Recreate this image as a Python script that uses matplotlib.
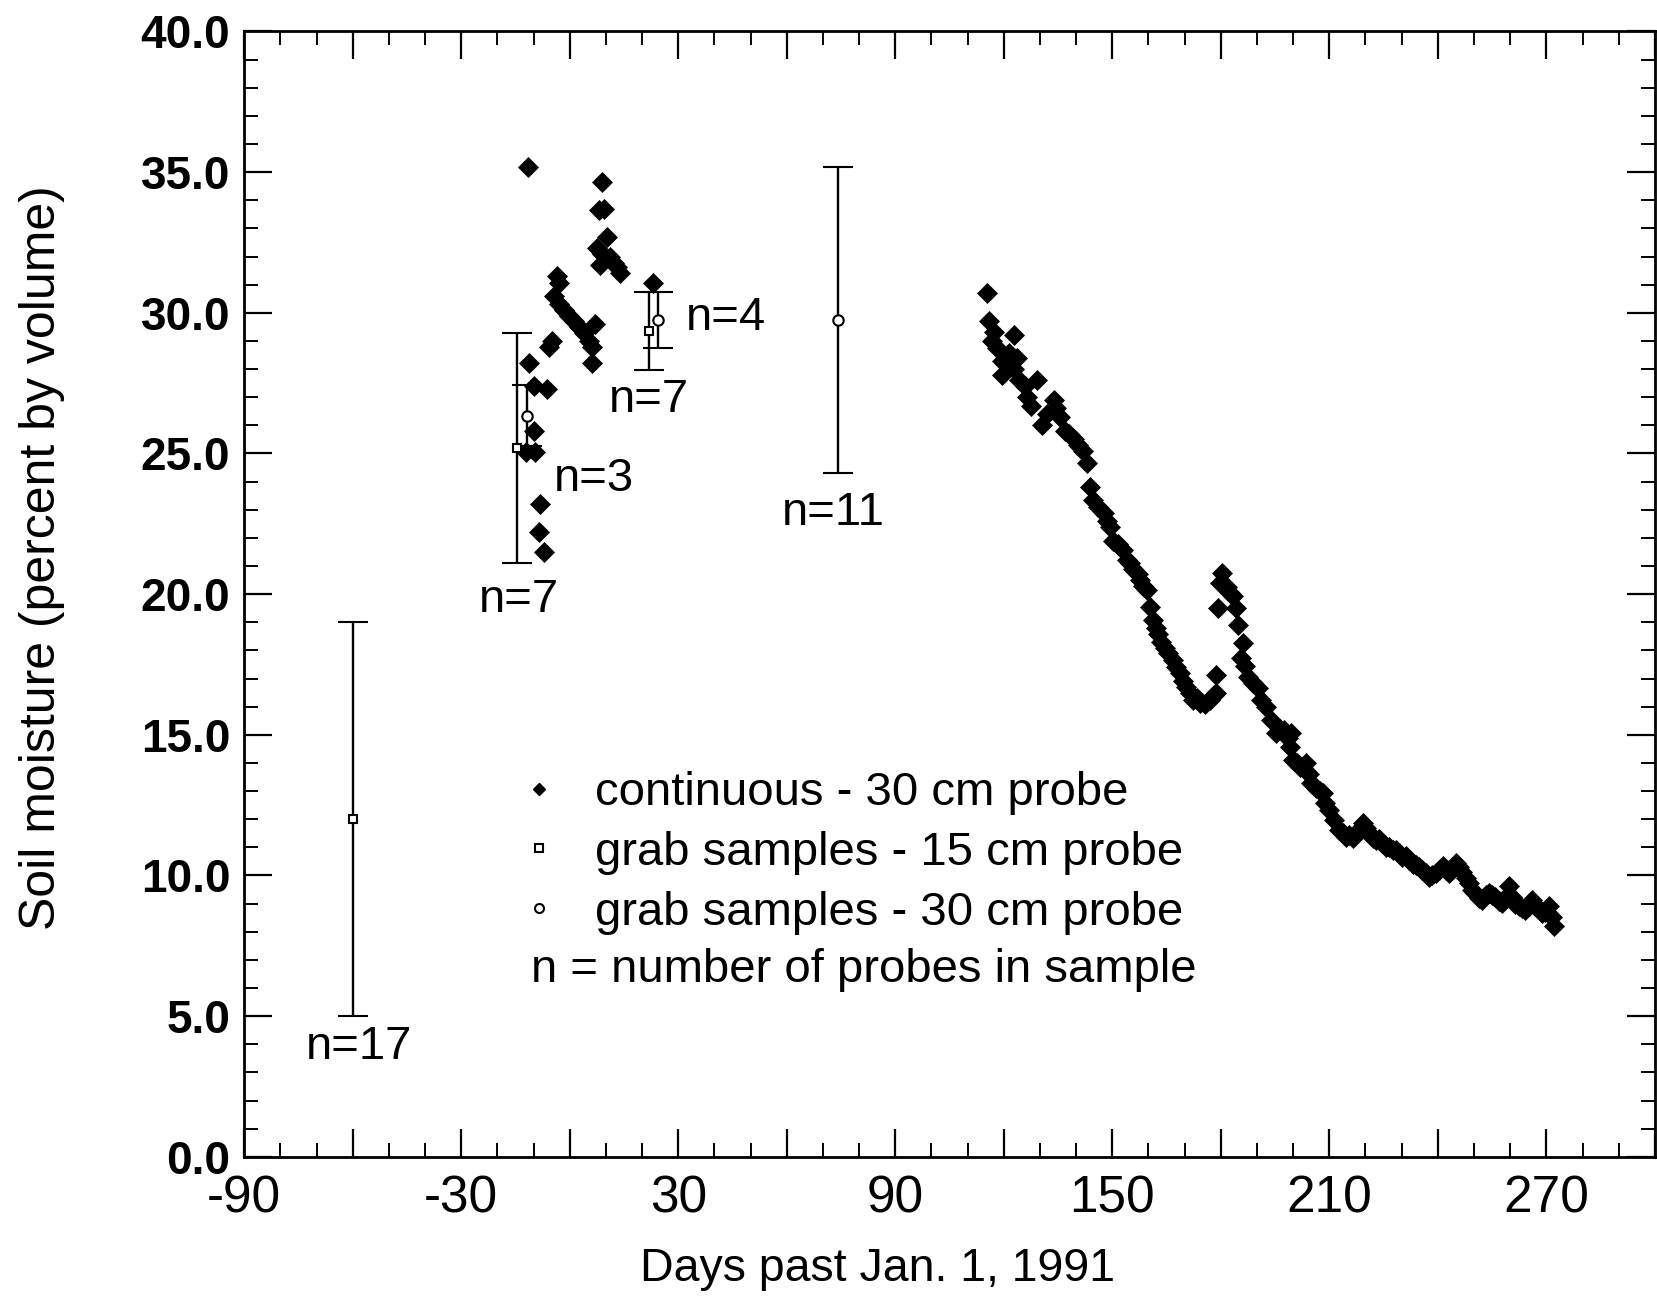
import matplotlib
matplotlib.use("Agg")
import matplotlib.pyplot as plt
from matplotlib.ticker import MultipleLocator, FuncFormatter
from matplotlib.lines import Line2D

# ---------------- data ----------------
# continuous - 30 cm probe (day, percent by volume)
cont_day_early = [-11.6, -12.2, -9.5, -11.3, -9.9, -6.2, -9.9, -8.1, -8.5, -7.2,
                  -5.8, -4.9, -4.4, -3.5, -3.0, -3.0, -1.6, -0.3, 1.1, 2.5, 3.9, 5.2, 6.2,
                  6.2, 7.1, 7.5, 8.0, 8.5, 8.9, 8.9, 9.4, 10.3, 11.2, 12.1, 13.0, 14.0, 23.1]
cont_val_early = [35.2, 25.07, 25.07, 28.2, 27.4, 27.3, 25.8, 23.2, 22.2, 21.5,
                  28.8, 29.0, 30.6, 31.3, 31.05, 30.3, 30.1, 29.9, 29.7, 29.5, 29.3, 29.0, 28.8,
                  28.2, 29.6, 32.3, 33.66, 31.7, 34.66, 32.1, 33.7, 32.7, 32.0, 31.76, 31.64, 31.4, 31.05]

cont_day_main = [115.4, 115.9, 116.8, 117.3, 118.2, 119.6, 119.6, 121.4, 122.8, 122.8,
                 123.7, 124.1, 126.0, 126.4, 127.4, 129.2, 130.6, 132.0, 133.8, 134.5,
                 135.6, 137.0, 138.0, 139.3, 140.5, 142.0, 143.0, 143.9, 144.8, 146.0,
                 147.6, 148.5, 149.4, 150.3, 151.5, 153.0, 154.0, 155.0, 155.8, 157.0,
                 157.7, 158.5, 159.5, 160.4, 161.3, 162.0, 162.7, 163.5, 164.5, 165.5,
                 166.8, 167.5, 168.7, 169.5, 170.5, 171.5, 172.4, 173.3, 174.2, 175.5,
                 177.0, 178.0, 178.8, 178.8, 179.3, 180.2, 179.7, 181.6, 182.5, 183.4,
                 184.3, 184.8, 185.7, 186.2, 186.6, 187.5, 188.9, 190.3, 191.2, 192.6,
                 194.0, 195.3, 196.5, 197.6, 198.5, 199.5, 199.0, 199.9, 201.0, 201.8,
                 203.6, 204.3, 205.0, 206.4, 207.3, 208.2, 208.7, 210.0, 211.4, 212.8,
                 213.7, 214.6, 215.5, 216.5, 217.4, 218.3, 219.2, 220.1, 221.0, 222.0,
                 222.9, 223.8, 224.7, 225.6, 226.6, 227.5, 228.4, 229.3, 230.2, 231.1,
                 232.1, 233.0, 233.9, 234.8, 235.7, 236.6, 237.6, 238.5, 239.4, 240.3,
                 241.3, 242.2, 243.1, 244.0, 244.9, 245.8, 246.8, 247.7, 248.6, 249.5,
                 250.4, 251.3, 252.3, 253.2, 254.1, 255.0, 255.9, 256.8, 257.8, 258.7,
                 259.6, 260.5, 261.4, 262.4, 263.3, 264.2, 265.1, 266.0, 267.0, 267.9,
                 268.8, 269.7, 270.6, 271.6, 272.0]
cont_val_main = [30.7, 29.7, 29.0, 29.33, 28.74, 28.3, 27.8, 28.56, 29.2, 28.0,
                 28.4, 27.6, 27.4, 27.0, 26.7, 27.6, 26.0, 26.4, 26.9, 26.6,
                 26.3, 25.8, 25.7, 25.5, 25.3, 25.1, 24.65, 23.8, 23.35, 23.1,
                 22.9, 22.6, 22.4, 21.9, 21.8, 21.57, 21.2, 21.1, 20.9, 20.7,
                 20.5, 20.3, 20.15, 19.56, 19.08, 18.8, 18.6, 18.3, 18.1, 17.9,
                 17.66, 17.4, 17.2, 16.9, 16.7, 16.5, 16.24, 16.3, 16.12, 16.1,
                 16.24, 16.4, 16.5, 17.13, 19.5, 20.74, 20.39, 20.27, 20.03, 19.92,
                 19.5, 18.9, 17.72, 18.26, 17.43, 17.07, 16.84, 16.66, 16.24, 16.0,
                 15.53, 15.06, 15.2, 15.18, 14.9, 15.06, 14.58, 14.11, 14.0, 13.87,
                 13.99, 13.6, 13.28, 13.1, 13.0, 12.93, 12.57, 12.33, 11.98, 11.62,
                 11.5, 11.38, 11.45, 11.33, 11.5, 11.62, 11.86, 11.7, 11.5, 11.35,
                 11.27, 11.3, 11.15, 11.0, 11.03, 10.9, 10.91, 10.8, 10.67, 10.7,
                 10.56, 10.4, 10.38, 10.3, 10.2, 10.1, 9.96, 10.0, 10.08, 10.2,
                 10.32, 10.2, 10.08, 10.2, 10.44, 10.3, 10.14, 9.9, 9.73, 9.5,
                 9.37, 9.2, 9.13, 9.3, 9.37, 9.3, 9.25, 9.1, 9.02, 9.2,
                 9.61, 9.25, 9.0, 8.9, 8.85, 8.78, 8.9, 9.13, 8.9, 8.8,
                 8.66, 8.7, 8.9, 8.54, 8.19]

# grab samples - 15 cm probe (squares)
g15_day = [-60.0, -14.6, 22.0]
g15_val = [12.0, 25.2, 29.35]
g15_err = [7.0, 4.1, 1.4]

# grab samples - 30 cm probe (circles)
g30_day = [-11.8, 24.5, 74.3]
g30_val = [26.35, 29.75, 29.75]
g30_err = [1.1, 1.0, 5.45]

# sample size annotations
n_labels = ["n=17", "n=7", "n=3", "n=7", "n=4", "n=11"]
n_x = [-58.3, -14.0, 6.7, 21.8, 43.1, 72.8]
n_y = [3.9, 19.8, 24.1, 26.9, 29.8, 22.9]

legend_labels = ["continuous - 30 cm probe",
                 "grab samples - 15 cm probe",
                 "grab samples - 30 cm probe"]
note_text = "n = number of probes in sample"

x_label = "Days past Jan. 1, 1991"
y_label = "Soil moisture (percent by volume)"

# ---------------- figure ----------------
plt.rcParams['font.family'] = ['Liberation Sans', 'DejaVu Sans']
fig = plt.figure(figsize=(16.58, 12.96), dpi=100)
ax = fig.add_axes([0.1473, 0.1074, 0.8508, 0.8683])

MS_D = 10.5
ax.plot(cont_day_early, cont_val_early, 'D', color='black', ms=MS_D, mec='black', mew=0.5, zorder=3)
ax.plot(cont_day_main, cont_val_main, 'D', color='black', ms=MS_D, mec='black', mew=0.5, zorder=3)

ax.errorbar(g15_day, g15_val, yerr=g15_err, fmt='s', ms=6, mfc='white', mec='black', mew=1.5,
            ecolor='black', elinewidth=1.7, capsize=11, capthick=1.7, zorder=4)
ax.errorbar(g30_day, g30_val, yerr=g30_err, fmt='o', ms=7.5, mfc='white', mec='black', mew=1.5,
            ecolor='black', elinewidth=1.7, capsize=11, capthick=1.7, zorder=4)

for lab, xx, yy in zip(n_labels, n_x, n_y):
    ax.text(xx, yy, lab, ha='center', va='center', fontsize=34, color='black')

ax.set_xlim(-90, 300)
ax.set_ylim(0, 40)

ax.xaxis.set_major_locator(MultipleLocator(30))
ax.xaxis.set_minor_locator(MultipleLocator(10))
ax.yaxis.set_major_locator(MultipleLocator(5))
ax.yaxis.set_minor_locator(MultipleLocator(1))

def xfmt(v, pos):
    iv = int(round(v))
    if (iv + 90) % 60 == 0:
        return f"{iv}"
    return ""
ax.xaxis.set_major_formatter(FuncFormatter(xfmt))
ax.yaxis.set_major_formatter(FuncFormatter(lambda v, p: f"{v:.1f}"))

ax.tick_params(which='both', direction='in', top=True, right=True, color='black')
ax.tick_params(which='major', length=20, width=1.6)
ax.tick_params(which='minor', length=10, width=1.4)
ax.tick_params(axis='y', which='major', pad=10)
ax.tick_params(axis='x', which='major', pad=13)
for lbl in ax.get_yticklabels():
    lbl.set_fontsize(33)
    lbl.set_fontweight('bold')
for lbl in ax.get_xticklabels():
    lbl.set_fontsize(37)

for sp in ax.spines.values():
    sp.set_linewidth(2.0)
    sp.set_color('black')

fig.text(0.0253, 0.57, y_label, rotation=90, ha='center', va='center', fontsize=36)
fig.text(0.5293, 0.0208, x_label, ha='center', va='center', fontsize=33.5)

handles = [Line2D([], [], ls='none', marker='D', color='black', ms=6),
           Line2D([], [], ls='none', marker='s', mfc='white', mec='black', mew=1.5, ms=6),
           Line2D([], [], ls='none', marker='o', mfc='white', mec='black', mew=1.5, ms=6.5)]
ax.legend(handles, legend_labels, loc='upper left', bbox_to_anchor=(0.1924, 0.3425),
          frameon=False, fontsize=34, handlelength=1.0, handletextpad=0.69,
          labelspacing=0.33, borderpad=0, borderaxespad=0)
ax.text(-10.8, 6.65, note_text, ha='left', va='center', fontsize=34)

fig.savefig("out.png", dpi=100)
